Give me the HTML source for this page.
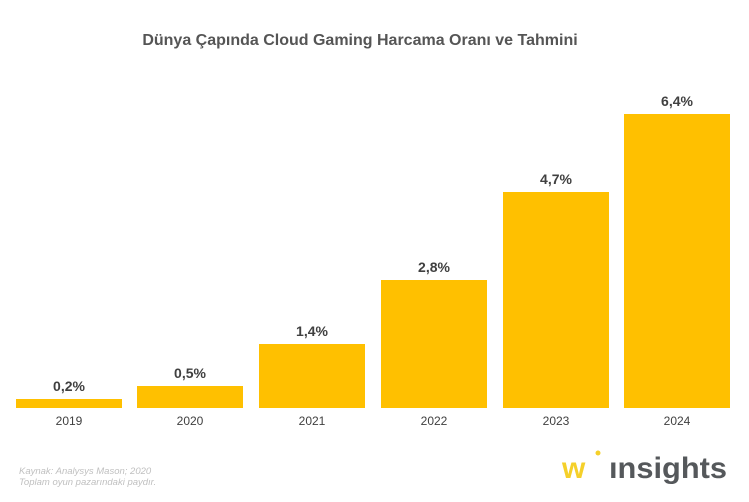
<!DOCTYPE html>
<html><head><meta charset="utf-8"><style>
html,body{margin:0;padding:0;background:#fff;}
svg{display:block;font-family:"Liberation Sans",Arial,sans-serif;}
</style></head><body>
<svg width="749" height="502" viewBox="0 0 749 502" xmlns="http://www.w3.org/2000/svg">
<rect width="749" height="502" fill="#fff"/>
<text x="360" y="45" text-anchor="middle" font-size="16" font-weight="bold" fill="#555">Dünya Çapında Cloud Gaming Harcama Oranı ve Tahmini</text>
<g fill="#FFC000">
<rect x="16" y="399" width="106" height="9"/>
<rect x="137" y="386" width="106" height="22"/>
<rect x="259" y="344" width="106" height="64"/>
<rect x="381" y="280" width="106" height="128"/>
<rect x="503" y="192" width="106" height="216"/>
<rect x="624" y="114" width="106" height="294"/>
</g>
<g font-size="14" font-weight="bold" fill="#404040" text-anchor="middle">
<text x="69" y="391">0,2%</text>
<text x="190" y="378">0,5%</text>
<text x="312" y="336">1,4%</text>
<text x="434" y="272">2,8%</text>
<text x="556" y="184">4,7%</text>
<text x="677" y="106">6,4%</text>
</g>
<g font-size="12" fill="#404040" text-anchor="middle">
<text x="69" y="425">2019</text>
<text x="190" y="425">2020</text>
<text x="312" y="425">2021</text>
<text x="434" y="425">2022</text>
<text x="556" y="425">2023</text>
<text x="677" y="425">2024</text>
</g>
<g font-size="9.5" font-style="italic" fill="#c0c0c0">
<text x="19" y="474">Kaynak: Analysys Mason; 2020</text>
<text x="19" y="485">Toplam oyun pazarındaki paydır.</text>
</g>
<text x="562" y="478" font-size="30" font-weight="bold" fill="#F5D02A">w</text>
<circle cx="598" cy="453" r="2.5" fill="#F5D02A"/>
<text x="609" y="478" font-size="30" fill="#55585b" font-weight="bold" textLength="118" lengthAdjust="spacingAndGlyphs">ınsights</text>
</svg>
</body></html>
